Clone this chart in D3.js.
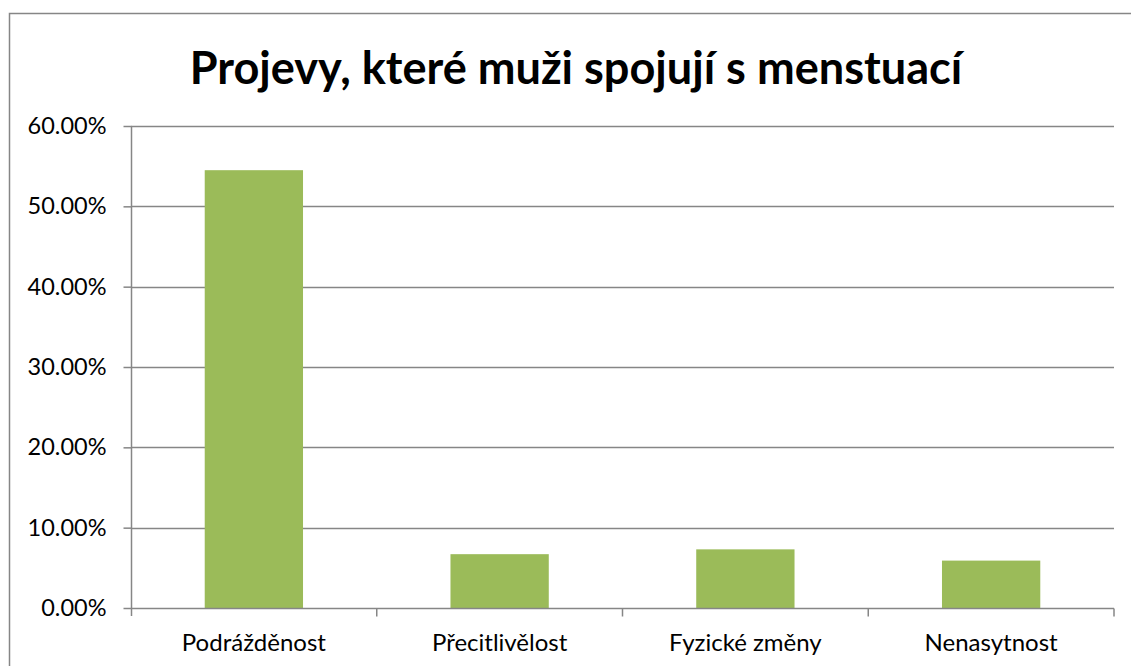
<!DOCTYPE html>
<html>
<head>
<meta charset="utf-8">
<script src="https://cdn.jsdelivr.net/npm/d3@7"></script>
<style>
  body { margin: 0; background: #fff; }
  text { font-family: Lato, "Open Sans", sans-serif; fill: #000; }
</style>
</head>
<body>
<script>
'use strict';

// chart values
const title = "Projevy, které muži spojují s menstuací";
const categories = ["Podrážděnost", "Přecitlivělost", "Fyzické změny", "Nenasytnost"];
const values = [0.545, 0.067, 0.073, 0.059];
const yTicks = [0, 0.1, 0.2, 0.3, 0.4, 0.5, 0.6];

const measurements = {
  width: 1131,
  height: 666,
  left: 131,
  right: 1114,
  top: 126,
  bottom: 608
};

const svgContainer = d3.select('body')
  .append('svg')
  .attr('width', measurements.width)
  .attr('height', measurements.height);

// chart frame (runs off the right and bottom edges)
svgContainer.append('path')
  .attr('d', 'M9.5,700 V13.5 H1200')
  .attr('fill', 'none')
  .attr('stroke', '#868686')
  .attr('stroke-width', 1.5);

let yScale = d3.scaleLinear()
  .domain([0, 0.6])
  .range([measurements.bottom, measurements.top]);

let xScale = d3.scaleBand()
  .domain(categories)
  .range([measurements.left, measurements.right])
  .paddingInner(0.6)
  .paddingOuter(0.3);

let xEdges = d3.scaleBand()
  .domain(categories)
  .range([measurements.left, measurements.right]);

// horizontal grid lines
svgContainer.append('g')
  .selectAll('line')
  .data(yTicks.slice(1))
  .enter()
  .append('line')
  .attr('x1', measurements.left)
  .attr('x2', measurements.right)
  .attr('y1', (d) => Math.round(yScale(d)) + 0.5)
  .attr('y2', (d) => Math.round(yScale(d)) + 0.5)
  .attr('stroke', '#868686')
  .attr('stroke-width', 1.5);

// bars
svgContainer.append('g')
  .selectAll('rect')
  .data(values)
  .enter()
  .append('rect')
  .attr('x', (d, i) => xScale(categories[i]))
  .attr('width', xScale.bandwidth())
  .attr('y', (d) => yScale(d))
  .attr('height', (d) => yScale(0) - yScale(d))
  .attr('fill', '#9BBB59');

// y axis
let yAxis = d3.axisLeft(yScale)
  .tickValues(yTicks)
  .tickSize(8)
  .tickPadding(17)
  .tickFormat((d) => (d * 100).toFixed(2) + '%');

let yg = svgContainer.append('g')
  .attr('transform', 'translate(' + (measurements.left + 0.5) + ',0)')
  .call(yAxis);
yg.select('.domain').attr('stroke', '#868686').attr('stroke-width', 1.5)
  .attr('d', 'M0,' + measurements.top + 'V' + (measurements.bottom + 8));
yg.selectAll('.tick line').attr('stroke', '#868686').attr('stroke-width', 1.5);
yg.selectAll('.tick text').style('font-size', '23.5px').attr('fill', '#000');

// x axis
let xAxis = d3.axisBottom(xScale)
  .tickSize(0);

let xg = svgContainer.append('g')
  .attr('transform', 'translate(0,' + (measurements.bottom + 0.5) + ')')
  .call(xAxis);
xg.select('.domain').attr('stroke', '#868686').attr('stroke-width', 1.5)
  .attr('d', 'M' + measurements.left + ',0H' + measurements.right);
xg.selectAll('.tick text')
  .style('font-size', '24px')
  .attr('fill', '#000')
  .attr('x', 0)
  .attr('y', 42)
  .attr('dy', 0);

// category separator ticks
xg.append('g')
  .selectAll('line')
  .data(categories)
  .enter()
  .append('line')
  .attr('x1', (d) => xEdges(d) + xEdges.bandwidth())
  .attr('x2', (d) => xEdges(d) + xEdges.bandwidth())
  .attr('y1', 0)
  .attr('y2', 8)
  .attr('stroke', '#868686')
  .attr('stroke-width', 1.5);

// title
let t = svgContainer.append('text')
  .attr('x', 576)
  .attr('y', 84)
  .attr('text-anchor', 'middle')
  .style('font-size', '40px')
  .style('font-weight', 'bold')
  .text(title);

// fit title to the width seen in the picture
let w = t.node().getComputedTextLength();
t.style('font-size', (40 * 772 / w).toFixed(1) + 'px');
</script>
</body>
</html>
